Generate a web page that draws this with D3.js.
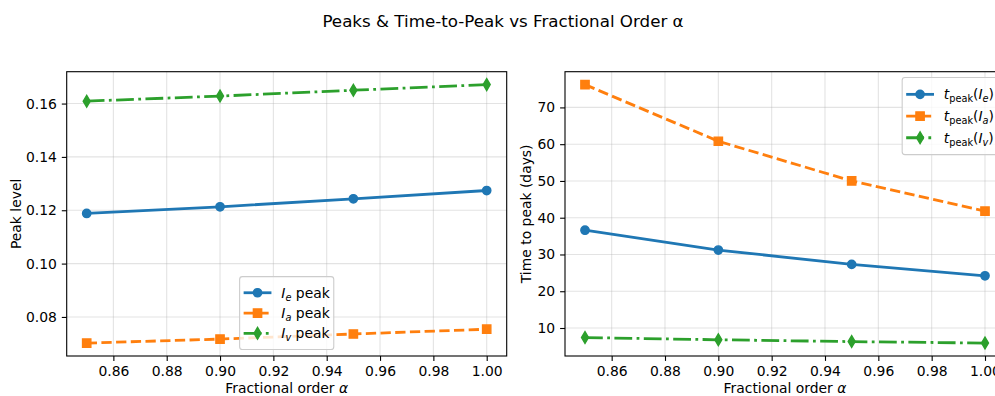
<!DOCTYPE html>
<html>
<head>
<meta charset="utf-8">
<script src="https://cdn.jsdelivr.net/npm/d3@7"></script>
<style>
  body { margin: 0; background: #fff; }
  svg { display: block; font-family: "DejaVu Sans", sans-serif; }
</style>
</head>
<body>
<div id="chart"></div>
<script>
// values
const alphas = [0.85, 0.90, 0.95, 1.00];
const peakIe = [0.1188, 0.1213, 0.1243, 0.1274];
const peakIa = [0.0702, 0.0717, 0.0736, 0.0754];
const peakIv = [0.1609, 0.1628, 0.1650, 0.1671];
const tpeakIe = [36.6, 31.2, 27.3, 24.2];
const tpeakIa = [76.2, 60.8, 50.0, 41.8];
const tpeakIv = [7.4, 6.8, 6.3, 5.9];
const xTicks = [0.86, 0.88, 0.90, 0.92, 0.94, 0.96, 0.98, 1.00];
const leftYTicks = [0.08, 0.10, 0.12, 0.14, 0.16];
const rightYTicks = [10, 20, 30, 40, 50, 60, 70];

const W = 995, H = 396;
const FS = 13.9;
const colors = {e: '#1f77b4', a: '#ff7f0e', v: '#2ca02c'};
const LW = 2.78;

const svg = d3.select('#chart').append('svg')
    .attr('width', W).attr('height', H);

svg.append('text')
    .attr('x', 503).attr('y', 27)
    .attr('text-anchor', 'middle')
    .attr('font-size', 16.7)
    .attr('fill', '#000')
    .text('Peaks & Time-to-Peak vs Fractional Order α');

// marker shapes (matplotlib o, s, d at size 6)
function markerPath(kind) {
    if (kind === 'o') return d3.symbol(d3.symbolCircle, Math.PI * 4.17 * 4.17)();
    if (kind === 's') return d3.symbol(d3.symbolSquare, 8.3 * 8.3)();
    const h = 5.9, w = 3.5;
    return `M0,${-h}L${w},0L0,${h}L${-w},0Z`;
}

function pad(ext) {
    const m = (ext[1] - ext[0]) * 0.05;
    return [ext[0] - m, ext[1] + m];
}

function panel(opts) {
    const {left, right, top, bottom} = opts;
    const g = svg.append('g');

    const x = d3.scaleLinear().domain(pad(d3.extent(alphas))).range([left, right]);
    const allY = opts.series.flatMap(s => s.values);
    const y = d3.scaleLinear().domain(pad(d3.extent(allY))).range([bottom, top]);

    // grid
    g.append('g').selectAll('line.vx').data(xTicks).join('line')
        .attr('x1', d => x(d)).attr('x2', d => x(d))
        .attr('y1', top).attr('y2', bottom)
        .attr('stroke', '#b0b0b0').attr('stroke-opacity', 0.35).attr('stroke-width', 1.1);
    g.append('g').selectAll('line.hy').data(opts.yTicks).join('line')
        .attr('x1', left).attr('x2', right)
        .attr('y1', d => y(d)).attr('y2', d => y(d))
        .attr('stroke', '#b0b0b0').attr('stroke-opacity', 0.35).attr('stroke-width', 1.1);

    // axes
    const ax = g.append('g')
        .attr('transform', `translate(0,${bottom})`)
        .call(d3.axisBottom(x).tickValues(xTicks).tickFormat(d3.format('.2f'))
            .tickSize(4.9).tickPadding(4.9));
    const ay = g.append('g')
        .attr('transform', `translate(${left},0)`)
        .call(d3.axisLeft(y).tickValues(opts.yTicks).tickFormat(opts.yFormat)
            .tickSize(4.9).tickPadding(4.9));
    [ax, ay].forEach(a => {
        a.select('.domain').remove();
        a.selectAll('line').attr('stroke', '#000').attr('stroke-width', 1.1);
        a.selectAll('text').attr('font-size', FS).attr('fill', '#000')
            .attr('font-family', '"DejaVu Sans", sans-serif');
    });

    // lines + markers
    const line = d3.line().x(d => x(d[0])).y(d => y(d[1]));
    opts.series.forEach(s => {
        const pts = alphas.map((a, i) => [a, s.values[i]]);
        g.append('path')
            .attr('d', line(pts))
            .attr('fill', 'none')
            .attr('stroke', s.color)
            .attr('stroke-width', LW)
            .attr('stroke-dasharray', s.dash)
            .attr('stroke-linejoin', 'round');
        g.append('g').selectAll('path').data(pts).join('path')
            .attr('transform', d => `translate(${x(d[0])},${y(d[1])})`)
            .attr('d', markerPath(s.marker))
            .attr('fill', s.color)
            .attr('stroke', s.color)
            .attr('stroke-width', 1.39);
    });

    // spines
    g.append('rect')
        .attr('x', left).attr('y', top)
        .attr('width', right - left).attr('height', bottom - top)
        .attr('fill', 'none').attr('stroke', '#000').attr('stroke-width', 1.1);

    // labels
    const xl = g.append('text')
        .attr('x', (left + right) / 2).attr('y', 393)
        .attr('text-anchor', 'middle').attr('font-size', FS).attr('fill', '#000');
    xl.append('tspan').text('Fractional order ');
    xl.append('tspan').attr('font-style', 'italic').text('α');

    g.append('text')
        .attr('transform', `translate(${opts.yLabelX},${(top + bottom) / 2}) rotate(-90)`)
        .attr('text-anchor', 'middle').attr('font-size', FS).attr('fill', '#000')
        .text(opts.yLabel);

    return {g, x, y};
}

function legend(g, items, place) {
    const lg = g.append('g');
    const box = lg.append('rect');
    const rows = [];
    items.forEach((it, i) => {
        const row = lg.append('g');
        row.append('line')
            .attr('x1', 0).attr('x2', 27.8)
            .attr('stroke', it.color).attr('stroke-width', LW)
            .attr('stroke-dasharray', it.dash);
        row.append('path')
            .attr('transform', 'translate(13.9,0)')
            .attr('d', markerPath(it.marker))
            .attr('fill', it.color).attr('stroke', it.color).attr('stroke-width', 1.39);
        const t = row.append('text')
            .attr('x', 37.7).attr('y', 5)
            .attr('font-size', FS).attr('fill', '#000');
        it.label(t);
        rows.push({row, t});
    });
    const textW = d3.max(rows, r => r.t.node().getComputedTextLength());
    const bw = 4 + 37.7 + textW + 4;
    const bh = 2 * 6 + items.length * place.rowH;
    let bx, by;
    if (place.mode === 'lowercenter') {
        bx = place.cx - bw / 2;
        by = place.bottom - bh;
    } else {
        bx = place.right - bw;
        by = place.top;
    }
    box.attr('x', bx).attr('y', by).attr('width', bw).attr('height', bh)
        .attr('rx', 2.8)
        .attr('fill', '#fff').attr('fill-opacity', 0.8)
        .attr('stroke', '#cccccc').attr('stroke-width', 1.1);
    rows.forEach((r, i) => {
        r.row.attr('transform', `translate(${bx + 4},${by + 6 + place.rowH * (i + 0.5)})`);
    });
}

const solid = null, dashed = '10.3,4.4', dashdot = '17.8,4.4,2.8,4.4';

const L = panel({
    left: 66.7, right: 506.7, top: 71.7, bottom: 356,
    series: [
        {values: peakIe, color: colors.e, dash: solid, marker: 'o'},
        {values: peakIa, color: colors.a, dash: dashed, marker: 's'},
        {values: peakIv, color: colors.v, dash: dashdot, marker: 'd'}
    ],
    yTicks: leftYTicks, yFormat: d3.format('.2f'),
    yLabel: 'Peak level', yLabelX: 21
});

const R = panel({
    left: 565, right: 1005, top: 71.7, bottom: 356,
    series: [
        {values: tpeakIe, color: colors.e, dash: solid, marker: 'o'},
        {values: tpeakIa, color: colors.a, dash: dashed, marker: 's'},
        {values: tpeakIv, color: colors.v, dash: dashdot, marker: 'd'}
    ],
    yTicks: rightYTicks, yFormat: d3.format('d'),
    yLabel: 'Time to peak (days)', yLabelX: 531
});

function peakLabel(sub) {
    return t => {
        t.append('tspan').attr('font-style', 'italic').text('I');
        t.append('tspan').attr('font-style', 'italic').attr('font-size', FS * 0.7)
            .attr('dy', 2.8).text(sub);
        t.append('tspan').attr('dy', -2.8).text(' peak');
    };
}
function tpeakLabel(sub) {
    return t => {
        t.append('tspan').attr('font-style', 'italic').text('t');
        t.append('tspan').attr('font-size', FS * 0.7).attr('dy', 2.8).text('peak');
        t.append('tspan').attr('dy', -2.8).text('(');
        t.append('tspan').attr('font-style', 'italic').text('I');
        t.append('tspan').attr('font-style', 'italic').attr('font-size', FS * 0.7)
            .attr('dy', 2.8).text(sub);
        t.append('tspan').attr('dy', -2.8).text(')');
    };
}

legend(L.g, [
    {color: colors.e, dash: solid, marker: 'o', label: peakLabel('e')},
    {color: colors.a, dash: dashed, marker: 's', label: peakLabel('a')},
    {color: colors.v, dash: dashdot, marker: 'd', label: peakLabel('v')}
], {mode: 'lowercenter', cx: 286.7, bottom: 349.5, rowH: 20.3});

legend(R.g, [
    {color: colors.e, dash: solid, marker: 'o', label: tpeakLabel('e')},
    {color: colors.a, dash: dashed, marker: 's', label: tpeakLabel('a')},
    {color: colors.v, dash: dashdot, marker: 'd', label: tpeakLabel('v')}
], {mode: 'upperright', right: 998, top: 77.5, rowH: 21.7});
</script>
</body>
</html>
